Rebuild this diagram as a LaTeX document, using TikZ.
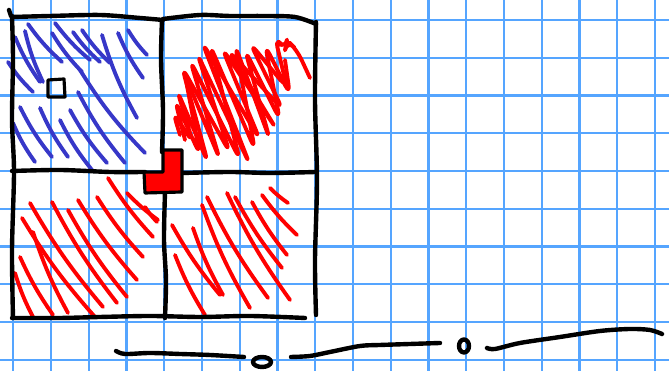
\documentclass[tikz,border=0pt]{standalone}
\definecolor{gridblue}{RGB}{85,165,255}
\definecolor{hatchblue}{RGB}{55,55,200}
\definecolor{hatchred}{RGB}{255,0,0}
\tikzset{
  gridln/.style={draw=gridblue, line width=0.6pt},
  ink/.style={draw=black, line width=1.25pt, line cap=round, line join=round},
  bluehatch/.style={draw=hatchblue, line width=1.1pt, line cap=round},
  redhatch/.style={draw=hatchred, line width=1.1pt, line cap=round, line join=round},
}
\begin{document}
\begin{tikzpicture}[x=0.01cm,y=-0.01cm]
\useasboundingbox (0,0) rectangle (669,371);
\fill[white] (0,0) rectangle (669,371);
% grid paper
\foreach \i in {0,...,17} \draw[gridln] ({13.25+37.75*\i},0) -- ({13.25+37.75*\i},371);
\foreach \j in {0,...,9} \draw[gridln] (0,{20+37.75*\j}) -- (669,{20+37.75*\j});

% blue hatching (top-left)
\foreach \xa/\ya/\xb/\yb in {28/24/62/62, 25/31/43/82, 15/37/40/82, 8/62/33/92, 55/23/90/60, 52/33/82/72,
  73/32/100/62, 82/30/110/63, 102/35/137/118, 118/33/143/78, 128/30/147/55, 80/70/145/153,
  78/92/125/163, 70/110/107/163, 60/120/92/170, 40/108/68/157, 20/107/52/157, 13/123/35/162}
  \draw[bluehatch] (\xa,\ya) to[bend right=6] (\xb,\yb);

% red hatching (bottom-left)
\foreach \xa/\ya/\xb/\yb in {108/178/153/237, 127/193/158/220, 145/207/157/222, 97/197/143/257,
  78/200/137/280, 68/210/127/297, 52/202/117/303, 30/203/103/307, 22/218/95/317, 33/232/68/313,
  20/257/53/315, 15/273/33/317}
  \draw[redhatch] (\xa,\ya) to[bend right=5] (\xb,\yb);

% red hatching (bottom-right)
\foreach \xa/\ya/\xb/\yb in {270/188/288/203, 262/195/297/235, 252/202/287/255, 235/197/282/268,
  227/193/290/300, 207/197/268/298, 202/205/250/308, 193/228/223/295, 172/225/220/295, 175/255/205/315}
  \draw[redhatch] (\xa,\ya) to[bend right=5] (\xb,\yb);

% red scribble (top-right)
\draw[redhatch, rounded corners=3pt] (180,135) -- (173,112) -- (193,143) -- (177,90) -- (208,163)
  -- (182,67) -- (230,153) -- (197,53) -- (250,165) -- (202,42) -- (260,140) -- (222,48)
  -- (277,130) -- (228,50) -- (283,110) -- (250,43) -- (287,88) -- (275,37) -- (285,50)
  -- (287,40) -- (297,50) -- (310,78);
\draw[redhatch, rounded corners=3pt] (185,140) -- (175,100) -- (200,155) -- (185,75) -- (220,160)
  -- (190,60) -- (240,160) -- (210,45) -- (255,150) -- (235,45) -- (270,140) -- (245,50)
  -- (280,120) -- (265,45) -- (290,95) -- (285,60);

% black square outlines
\draw[ink] plot[smooth] coordinates {(12,17) (50,16) (100,15) (140,18) (163,20)};
\draw[ink] plot[smooth] coordinates {(163,19) (200,15) (230,16) (265,16) (295,17) (316,24)};
\draw[ink] (9,10) -- (11,16);
\draw[ink] plot[smooth] coordinates {(12,16) (13,60) (12,120) (14,172) (12,250) (13,318)};
\draw[ink] plot[smooth] coordinates {(316,22) (315,100) (317,180) (315,260) (316,315)};
\draw[ink] plot[smooth] coordinates {(12,318) (60,318) (100,317) (150,316) (200,317) (250,316) (305,318)};
\draw[ink] plot[smooth] coordinates {(162,20) (161,60) (163,110) (162,152)};
\draw[ink] plot[smooth] coordinates {(165,192) (164,240) (166,280) (165,318)};
\draw[ink] plot[smooth] coordinates {(12,171) (60,170) (110,172) (145,172)};
\draw[ink] plot[smooth] coordinates {(182,173) (230,172) (270,173) (316,172)};

% small square
\draw[ink, line width=0.9pt] (48,80) -- (64,79) -- (65,97) -- (48,97) -- cycle;

% red L-shape
\filldraw[fill=hatchred, draw=black, line width=0.9pt, line join=round]
  (163,150) -- (182,150) -- (182,192) -- (145,193) -- (144,172) -- (163,172) -- cycle;

% bottom line with circles
\draw[ink] plot[smooth] coordinates {(116,351) (125,354) (150,353) (180,354) (210,355) (244,357)};
\draw[ink] (262,362) ellipse [x radius=9, y radius=5];
\draw[ink] plot[smooth] coordinates {(291,357) (310,356) (330,352) (360,346) (380,345) (410,344) (440,343)};
\draw[ink] (464,346) ellipse [x radius=5, y radius=6.5];
\draw[ink] plot[smooth] coordinates {(487,348) (495,349) (520,343) (560,337) (600,331) (630,329) (650,330) (662,334)};
\end{tikzpicture}
\end{document}
